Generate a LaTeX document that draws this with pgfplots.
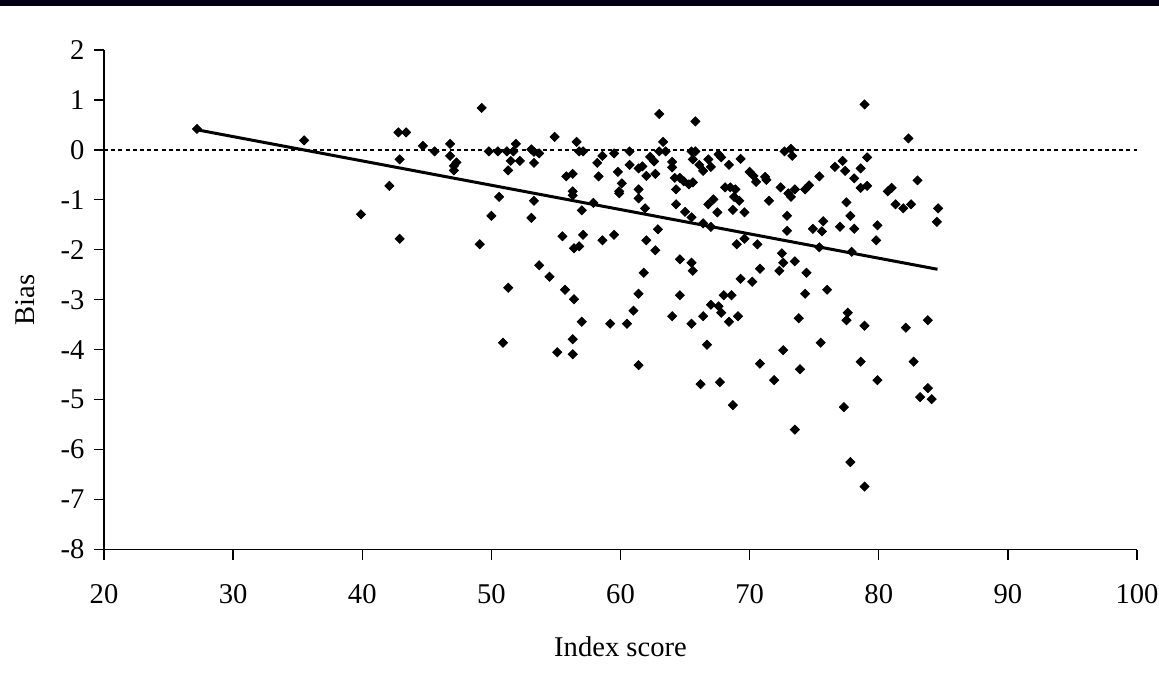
\documentclass[border=0pt]{standalone}
\usepackage{pgfplots}
\pgfplotsset{compat=1.18}
\usepackage{fontspec}
\setmainfont{Liberation Serif}
\definecolor{topbar}{RGB}{2,0,18}
\begin{document}
\begin{tikzpicture}[font=\fontsize{14.3}{17}\selectfont]
\useasboundingbox (0,0) rectangle (579.5pt,348pt);
\fill[topbar] (0,345pt) rectangle (579.5pt,348pt);
\begin{axis}[
  at={(52pt,73.25pt)}, anchor=south west,
  width=516.5pt, height=249.75pt, scale only axis,
  xmin=20, xmax=100, ymin=-8, ymax=2,
  axis x line*=bottom, axis y line*=left,
  axis line style={line width=0.65pt, -},
  xtick={20,30,...,100}, ytick={-8,-7,...,2},
  tick align=outside, major tick length=5pt,
  tick style={line width=0.65pt, black},
  /pgf/number format/assume math mode=true,
  xticklabel style={yshift=-9pt},
  yticklabel style={xshift=-1.2pt},
  xlabel={Index score}, ylabel={Bias},
  xlabel style={at={(axis description cs:0.5,-0.1954)}, anchor=center},
  ylabel style={at={(axis description cs:-0.0764,0.5)}, anchor=center},
  clip=false,
]
\addplot[black, line width=0.9pt, dash pattern=on 2pt off 1.6pt] coordinates {(20,0) (100,0)};
\addplot[black, line width=1.5pt] coordinates {(27.25,0.40) (84.55,-2.39)};
\addplot[only marks, mark=square*, mark size=1.6pt, mark options={rotate=45, fill=black, draw=black}] table {
x y
27.2 0.42
35.5 0.19
42.8 0.35
42.9 -0.19
42.1 -0.72
39.9 -1.29
42.9 -1.78
49.25 0.84
43.4 0.35
44.7 0.08
45.6 -0.03
46.8 0.12
46.8 -0.12
47.3 -0.25
47.1 -0.32
47.1 -0.41
49.8 -0.03
50.5 -0.03
51.2 -0.03
51.7 -0.03
51.9 0.12
51.5 -0.22
52.2 -0.22
51.3 -0.41
50.6 -0.94
50.0 -1.32
49.1 -1.89
51.3 -2.76
53.1 0.01
53.3 -0.04
53.7 -0.07
53.3 -0.26
53.3 -1.02
53.1 -1.36
53.7 -2.31
54.5 -2.54
54.9 0.26
55.7 -2.80
56.4 -2.99
55.5 -1.73
56.4 -1.97
56.8 -1.93
57.1 -1.70
55.8 -0.53
56.3 -0.48
56.3 -0.83
56.3 -0.91
56.6 0.16
56.8 -0.03
57.1 -0.03
57.0 -1.21
57.9 -1.06
58.2 -0.26
58.6 -0.12
58.3 -0.53
59.5 -0.07
59.8 -0.44
60.1 -0.67
59.9 -0.83
59.9 -0.87
58.6 -1.81
59.5 -1.70
60.7 -0.03
60.7 -0.30
61.4 -0.37
61.4 -0.79
61.4 -0.97
61.4 -2.88
50.9 -3.86
55.1 -4.05
56.3 -4.09
56.3 -3.79
57.0 -3.44
59.2 -3.48
60.5 -3.48
61.0 -3.22
61.4 -4.31
63.0 0.72
65.8 0.57
78.9 0.91
63.3 0.16
61.7 -0.33
62.3 -0.14
62.6 -0.23
62.0 -0.52
62.7 -0.48
63.0 -0.03
63.5 -0.03
61.9 -1.17
62.9 -1.59
62.0 -1.81
62.7 -2.01
61.8 -2.46
64.0 -0.24
64.0 -0.35
64.2 -0.56
64.6 -0.56
64.9 -0.63
65.3 -0.69
65.6 -0.65
64.3 -0.79
64.3 -1.09
65.0 -1.24
65.5 -1.35
64.6 -2.19
65.5 -2.26
65.6 -2.42
64.6 -2.91
65.5 -0.03
65.8 -0.03
65.6 -0.19
66.1 -0.30
66.4 -0.42
66.8 -0.19
67.0 -0.34
67.6 -0.09
67.8 -0.15
68.4 -0.30
69.3 -0.18
66.4 -1.47
67.0 -1.54
66.8 -1.09
67.2 -0.99
67.5 -1.25
68.1 -0.75
68.5 -0.75
68.9 -0.79
68.8 -0.94
69.2 -1.02
68.7 -1.20
69.6 -1.25
69.0 -1.89
69.6 -1.78
70.6 -1.89
69.3 -2.58
70.2 -2.64
70.8 -2.38
68.0 -2.91
68.6 -2.91
70.0 -0.44
70.3 -0.52
70.5 -0.64
71.2 -0.54
71.3 -0.60
71.5 -1.02
72.4 -0.75
72.7 -0.03
73.2 0.02
73.3 -0.12
73.0 -0.87
73.2 -0.94
73.5 -0.79
74.3 -0.79
74.6 -0.71
72.9 -1.32
72.9 -1.62
72.5 -2.07
72.6 -2.26
72.3 -2.42
73.5 -2.23
74.3 -2.88
74.4 -2.46
75.4 -0.53
74.9 -1.58
75.6 -1.63
75.7 -1.43
75.4 -1.95
76.0 -2.80
76.6 -0.34
77.2 -0.22
77.4 -0.42
78.1 -0.57
78.6 -0.37
79.1 -0.15
78.6 -0.76
79.1 -0.72
77.5 -1.05
77.8 -1.32
77.0 -1.54
78.1 -1.58
77.9 -2.04
79.9 -1.51
79.8 -1.81
82.3 0.23
83.0 -0.61
80.7 -0.83
81.0 -0.76
81.3 -1.09
81.9 -1.17
82.5 -1.09
84.6 -1.17
84.5 -1.44
64.0 -3.33
65.5 -3.48
66.4 -3.33
67.0 -3.10
67.6 -3.13
67.8 -3.26
68.4 -3.44
69.1 -3.33
66.7 -3.90
66.2 -4.69
67.7 -4.65
68.7 -5.11
70.8 -4.28
71.9 -4.61
72.6 -4.01
73.8 -3.37
73.9 -4.39
73.5 -5.60
75.5 -3.86
77.6 -3.26
77.5 -3.41
78.9 -3.52
78.6 -4.24
77.3 -5.15
77.8 -6.25
78.9 -6.74
79.9 -4.61
82.1 -3.56
83.8 -3.41
82.7 -4.24
83.8 -4.77
83.2 -4.95
84.1 -4.99
};
\end{axis}
\end{tikzpicture}
\end{document}
